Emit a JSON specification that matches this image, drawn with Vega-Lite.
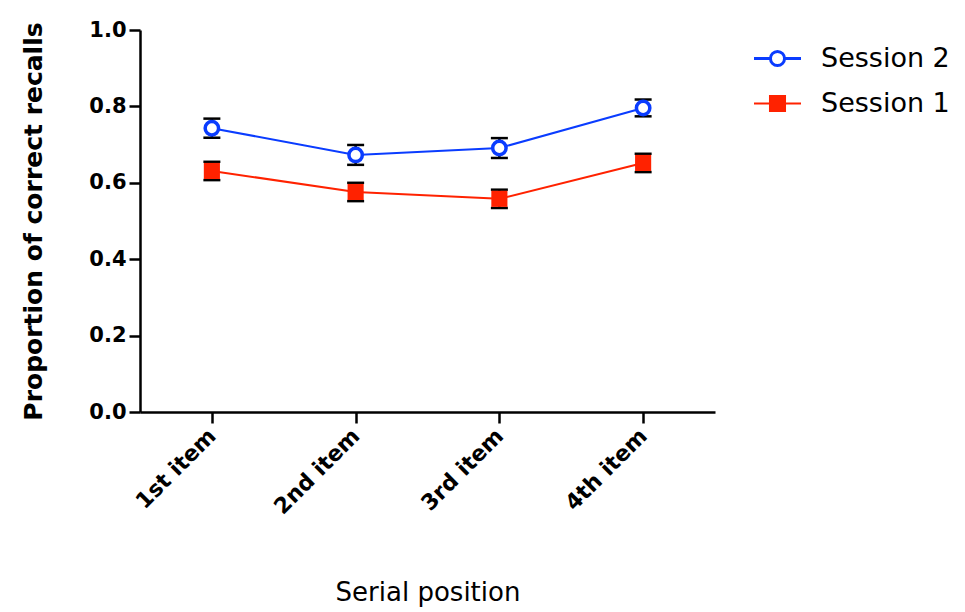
{
  "$schema": "https://vega.github.io/schema/vega-lite/v6.json",
  "autosize": "none",
  "width": 575,
  "height": 382,
  "padding": {"left": 140, "top": 30, "right": 250, "bottom": 200},
  "background": "white",
  "config": {
    "font": "DejaVu Sans",
    "view": {"stroke": null},
    "axis": {
      "labelFont": "DejaVu Sans",
      "titleFont": "DejaVu Sans",
      "labelFontSize": 21,
      "labelFontWeight": "bold",
      "labelColor": "black",
      "labelPadding": 3,
      "titleColor": "black",
      "domainColor": "black",
      "domainWidth": 2.5,
      "tickColor": "black",
      "tickWidth": 2.5,
      "tickSize": 11,
      "grid": false
    },
    "legend": {
      "labelFont": "DejaVu Sans",
      "labelFontSize": 27,
      "labelColor": "black"
    }
  },
  "data": {
    "values": [
      {"position": "1st item", "session": "Session 2", "mean": 0.743, "sem": 0.025},
      {"position": "2nd item", "session": "Session 2", "mean": 0.673, "sem": 0.026},
      {"position": "3rd item", "session": "Session 2", "mean": 0.691, "sem": 0.026},
      {"position": "4th item", "session": "Session 2", "mean": 0.796, "sem": 0.022},
      {"position": "1st item", "session": "Session 1", "mean": 0.631, "sem": 0.024},
      {"position": "2nd item", "session": "Session 1", "mean": 0.576, "sem": 0.024},
      {"position": "3rd item", "session": "Session 1", "mean": 0.558, "sem": 0.024},
      {"position": "4th item", "session": "Session 1", "mean": 0.652, "sem": 0.024}
    ]
  },
  "encoding": {
    "x": {
      "field": "position",
      "type": "ordinal",
      "scale": {"type": "point", "padding": 0.5},
      "axis": {
        "title": "Serial position",
        "titleFontSize": 26,
        "titleFontWeight": "normal",
        "titlePadding": 62,
        "labelAngle": -45,
        "labelAlign": "right",
        "labelBaseline": "middle",
        "labelFontSize": 22,
        "labelPadding": 9
      }
    },
    "y": {
      "field": "mean",
      "type": "quantitative",
      "scale": {"domain": [0, 1]},
      "axis": {
        "title": "Proportion of correct recalls",
        "titleFontSize": 25,
        "titleFontWeight": "bold",
        "titlePadding": 42,
        "values": [0, 0.2, 0.4, 0.6, 0.8, 1.0],
        "format": ".1f",
        "labelFontSize": 21
      }
    }
  },
  "layer": [
    {
      "mark": {"type": "line", "strokeWidth": 2},
      "encoding": {
        "color": {
          "field": "session",
          "type": "nominal",
          "scale": {"domain": ["Session 2", "Session 1"], "range": ["#0a3cff", "#ff2200"]},
          "legend": {
            "title": null,
            "orient": "right",
            "offset": 34,
            "labelFontSize": 27,
            "labelColor": "black",
            "labelOffset": 30,
            "symbolSize": 2209,
            "rowPadding": 17,
            "padding": 15,
            "encode": {
              "symbols": {
                "update": {
                  "shape": {"signal": "datum.value === 'Session 2' ? 'M-1,0H-0.3M0.3,0H1M-0.3,0A0.3,0.3 0 1,0 0.3,0A0.3,0.3 0 1,0 -0.3,0' : 'M-1,0H1M-0.32,-0.32H0.32V0.32H-0.32Z'"},
                  "fill": {"signal": "datum.value === 'Session 2' ? 'transparent' : '#ff2200'"},
                  "stroke": {"signal": "datum.value === 'Session 2' ? '#0a3cff' : '#ff2200'"},
                  "strokeWidth": {"signal": "datum.value === 'Session 2' ? 3 : 2"},
                  "size": {"value": 2209},
                  "opacity": {"value": 1}
                }
              }
            }
          }
        }
      }
    },
    {
      "mark": {
        "type": "errorbar",
        "ticks": {"size": 17, "thickness": 2.5, "color": "black", "opacity": 1},
        "rule": {"strokeWidth": 2.5, "color": "black", "opacity": 1}
      },
      "encoding": {
        "y": {"field": "mean", "type": "quantitative"},
        "yError": {"field": "sem"}
      }
    },
    {
      "transform": [{"filter": "datum.session === 'Session 2'"}],
      "mark": {"type": "point", "shape": "circle", "filled": false, "fill": "white", "stroke": "#0a3cff", "strokeWidth": 3.5, "size": 180, "opacity": 1}
    },
    {
      "transform": [{"filter": "datum.session === 'Session 1'"}],
      "mark": {"type": "square", "color": "#ff2200", "size": 260, "opacity": 1}
    }
  ]
}
